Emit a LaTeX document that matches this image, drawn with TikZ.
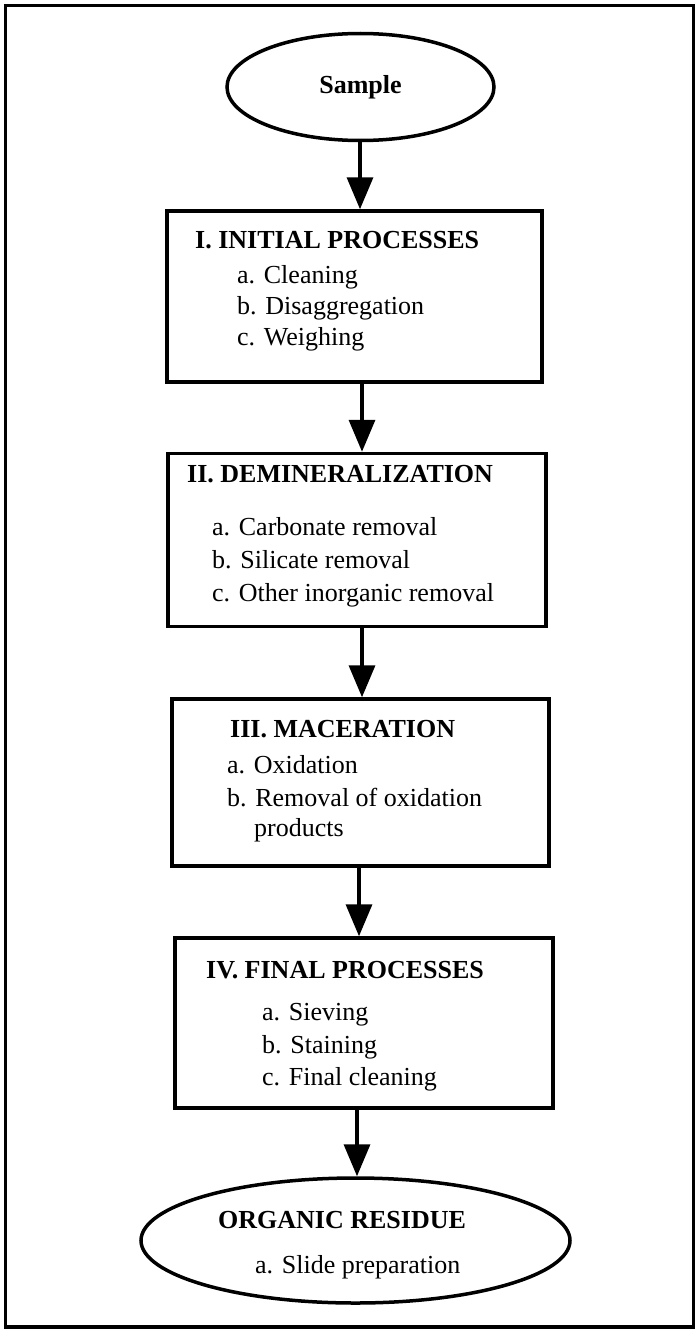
\documentclass[tikz,border=0pt]{standalone}
\usepackage{fontspec}
\setmainfont{Liberation Serif}
\usetikzlibrary{shapes.geometric,arrows.meta}

\tikzset{
  frame/.style={draw, line width=3.5pt},
  stepbox/.style={draw, rectangle, line width=3.5pt, inner sep=0pt},
  oval/.style={draw, ellipse, line width=3.5pt, inner sep=0pt},
  head/.style={font=\fontsize{26}{31}\selectfont\bfseries, anchor=base west, inner sep=0pt},
  item/.style={font=\fontsize{26}{31}\selectfont, anchor=base west, inner sep=0pt},
  flow/.style={line width=3.5pt, -{Triangle[length=32pt,width=26pt]}},
}

\begin{document}
\begin{tikzpicture}[x=1pt,y=-1pt]
\useasboundingbox (0,0) rectangle (696,1330);

% outer frame
\draw[frame] (5.5,5.5) rectangle (693.5,1327);

% stages
\node[oval, minimum width=267pt, minimum height=107pt,
      font=\fontsize{26}{31}\selectfont\bfseries] (sample) at (360.5,87) {Sample};

\node[stepbox, minimum width=375pt, minimum height=171pt] (b1) at (354.5,296.5) {};
\node[head] (b1t) at (195,248) {I. INITIAL PROCESSES};
\node[item] (b1a) at (237,283) {a. Cleaning};
\node[item] (b1b) at (237,314) {b. Disaggregation};
\node[item] (b1c) at (237,345) {c. Weighing};

\node[stepbox, minimum width=378pt, minimum height=173pt] (b2) at (357,540) {};
\node[head] (b2t) at (187,482) {II. DEMINERALIZATION};
\node[item] (b2a) at (212,535) {a. Carbonate removal};
\node[item] (b2b) at (212,568) {b. Silicate removal};
\node[item] (b2c) at (212,601) {c. Other inorganic removal};

\node[stepbox, minimum width=377pt, minimum height=167pt] (b3) at (360.5,782.5) {};
\node[head] (b3t) at (230,737) {III. MACERATION};
\node[item] (b3a) at (227,773) {a. Oxidation};
\node[item] (b3b) at (227,806) {b. Removal of oxidation};
\node[item] (b3c) at (254,836) {products};

\node[stepbox, minimum width=378pt, minimum height=170pt] (b4) at (364,1023) {};
\node[head] (b4t) at (206,978) {IV. FINAL PROCESSES};
\node[item] (b4a) at (262,1020) {a. Sieving};
\node[item] (b4b) at (262,1053) {b. Staining};
\node[item] (b4c) at (262,1085) {c. Final cleaning};

\node[oval, minimum width=429pt, minimum height=125pt] (res) at (355.5,1240.5) {};
\node[head] (rest) at (218,1228) {ORGANIC RESIDUE};
\node[item] (resa) at (255,1273) {a. Slide preparation};

% arrow columns
\coordinate (x0) at (360,0);
\coordinate (x1) at (362,0);
\coordinate (x2) at (362,0);
\coordinate (x3) at (359,0);
\coordinate (x4) at (357,0);

% connectors
\draw[flow] (sample.south -| x0) -- (b1.north -| x0);
\draw[flow] (b1.south -| x1) -- (b2.north -| x1);
\draw[flow] (b2.south -| x2) -- (b3.north -| x2);
\draw[flow] (b3.south -| x3) -- (b4.north -| x3);
\draw[flow] (b4.south -| x4) -- (res.north -| x4);
\end{tikzpicture}
\end{document}
